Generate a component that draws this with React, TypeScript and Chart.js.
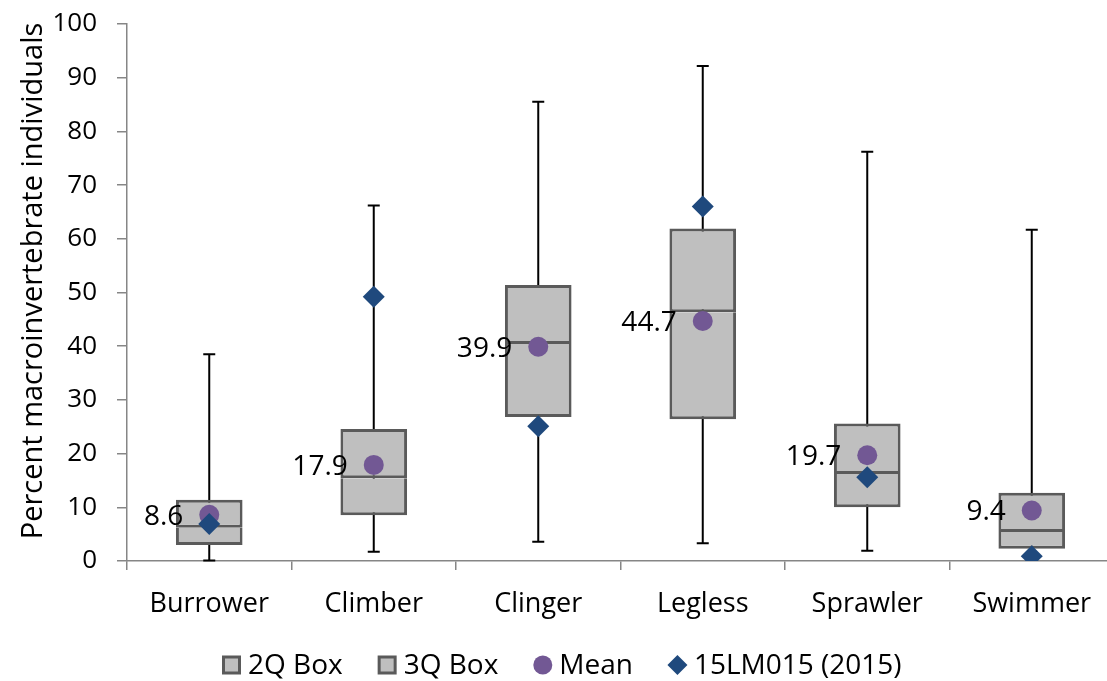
import React, { useEffect, useRef } from 'react';
import { Chart, registerables } from 'chart.js';

Chart.register(...registerables);

const categories = ['Burrower', 'Climber', 'Clinger', 'Legless', 'Sprawler', 'Swimmer'];
const minVals = [0.1, 1.7, 3.6, 3.3, 1.9, 0.3];
const q1Vals = [3.0, 8.5, 26.8, 26.4, 10.0, 2.3];
const medianVals = [6.2, 15.4, 40.4, 46.3, 16.2, 5.4];
const q3Vals = [11.4, 24.6, 51.4, 61.9, 25.6, 12.7];
const maxVals = [38.5, 66.2, 85.5, 92.2, 76.2, 61.7];
const meanVals = [8.6, 17.9, 39.9, 44.7, 19.7, 9.4];
const siteVals = [6.9, 49.2, 25.1, 66.0, 15.6, 0.9];
const legendLabels = ['2Q Box', '3Q Box', 'Mean', '15LM015 (2015)'];
const yTitle = 'Percent macroinvertebrate individuals';

const FONT = '"Open Sans", sans-serif';
const BOX_FILL = '#BFBFBF';
const BOX_EDGE = '#5A5A5A';
const MEAN_COLOR = '#725894';
const SITE_COLOR = '#1F497D';
const AXIS_COLOR = '#868686';

const whiskerPlugin = {
  id: 'whiskers',
  beforeDatasetsDraw(chart: any) {
    const { ctx, scales } = chart;
    const xs = scales.x;
    const ys = scales.y;
    ctx.save();
    ctx.strokeStyle = '#000000';
    ctx.lineWidth = 2;
    categories.forEach((_, i) => {
      const x = xs.getPixelForValue(i);
      const yTop = ys.getPixelForValue(maxVals[i]);
      const yBot = ys.getPixelForValue(minVals[i]);
      ctx.beginPath();
      ctx.moveTo(x, yTop);
      ctx.lineTo(x, yBot);
      ctx.moveTo(x - 6, yTop);
      ctx.lineTo(x + 6, yTop);
      ctx.moveTo(x - 6, yBot);
      ctx.lineTo(x + 6, yBot);
      ctx.stroke();
    });
    ctx.restore();
  },
};

const meanLabelPlugin = {
  id: 'meanLabels',
  afterDatasetsDraw(chart: any) {
    const { ctx } = chart;
    const meta = chart.getDatasetMeta(2);
    ctx.save();
    ctx.font = `28px ${FONT}`;
    ctx.fillStyle = '#000000';
    ctx.textAlign = 'right';
    ctx.textBaseline = 'middle';
    meta.data.forEach((pt: any, i: number) => {
      ctx.fillText(meanVals[i].toFixed(1), pt.x - 26, pt.y + 2);
    });
    ctx.restore();
  },
};

const yTitlePlugin = {
  id: 'yTitle',
  afterDraw(chart: any) {
    const { ctx } = chart;
    ctx.save();
    ctx.font = `29px ${FONT}`;
    ctx.fillStyle = '#000000';
    ctx.textAlign = 'center';
    ctx.textBaseline = 'middle';
    ctx.translate(34, 281);
    ctx.rotate(-Math.PI / 2);
    ctx.fillText(yTitle, 0, 0);
    ctx.restore();
  },
};

const customLegendPlugin = {
  id: 'customLegend',
  afterDraw(chart: any) {
    const { ctx } = chart;
    ctx.save();
    ctx.font = `28px ${FONT}`;
    ctx.textBaseline = 'middle';
    ctx.textAlign = 'left';
    const iconW = 19;
    const iconGap = 7;
    const itemGap = 35;
    const cy = 665;
    let x = 222;
    legendLabels.forEach((label, i) => {
      const cx = x + iconW / 2;
      if (i < 2) {
        ctx.fillStyle = BOX_FILL;
        ctx.strokeStyle = BOX_EDGE;
        ctx.lineWidth = 3;
        ctx.fillRect(cx - 8, cy - 8, 16, 16);
        ctx.strokeRect(cx - 8, cy - 8, 16, 16);
      } else if (i === 2) {
        ctx.fillStyle = MEAN_COLOR;
        ctx.beginPath();
        ctx.arc(cx, cy, 9.5, 0, Math.PI * 2);
        ctx.fill();
      } else {
        ctx.fillStyle = SITE_COLOR;
        ctx.beginPath();
        ctx.moveTo(cx, cy - 10);
        ctx.lineTo(cx + 10, cy);
        ctx.lineTo(cx, cy + 10);
        ctx.lineTo(cx - 10, cy);
        ctx.closePath();
        ctx.fill();
      }
      ctx.fillStyle = '#000000';
      const w = ctx.measureText(label).width;
      ctx.fillText(label, x + iconW + iconGap, cy + 1);
      x += iconW + iconGap + w + itemGap;
    });
    ctx.restore();
  },
};

export default function App() {
  const canvasRef = useRef<HTMLCanvasElement | null>(null);

  useEffect(() => {
    if (!canvasRef.current) return;
    const boxCommon = {
      type: 'bar' as const,
      grouped: false,
      backgroundColor: BOX_FILL,
      borderColor: BOX_EDGE,
      borderWidth: 3,
      barPercentage: 0.405,
      categoryPercentage: 1,
      inflateAmount: 0,
    };
    const chart = new Chart(canvasRef.current, {
      type: 'bar',
      data: {
        labels: categories,
        datasets: [
          {
            ...boxCommon,
            label: legendLabels[0],
            data: categories.map((_, i) => [q1Vals[i], medianVals[i]]),
            borderSkipped: 'top',
            order: 3,
          } as any,
          {
            ...boxCommon,
            label: legendLabels[1],
            data: categories.map((_, i) => [medianVals[i], q3Vals[i]]),
            borderSkipped: false,
            order: 2,
          } as any,
          {
            type: 'line',
            label: legendLabels[2],
            data: meanVals,
            showLine: false,
            pointStyle: 'circle',
            pointRadius: 10,
            pointBackgroundColor: MEAN_COLOR,
            pointBorderWidth: 0,
            borderColor: MEAN_COLOR,
            order: 1,
          } as any,
          {
            type: 'line',
            label: legendLabels[3],
            data: siteVals,
            showLine: false,
            pointStyle: 'rectRot',
            pointRadius: 11,
            pointBackgroundColor: SITE_COLOR,
            pointBorderWidth: 0,
            borderColor: SITE_COLOR,
            order: 0,
          } as any,
        ],
      },
      options: {
        responsive: false,
        animation: false,
        devicePixelRatio: 1,
        layout: { padding: { left: 8, right: 10, top: 24, bottom: 60 } },
        plugins: {
          legend: { display: false },
          tooltip: { enabled: false },
        },
        scales: {
          x: {
            type: 'category',
            offset: true,
            afterFit: (s: any) => {
              s.height = 60;
            },
            grid: {
              offset: true,
              drawOnChartArea: false,
              drawTicks: true,
              tickLength: 9,
              color: AXIS_COLOR,
              lineWidth: 1.5,
            },
            border: { display: true, color: AXIS_COLOR, width: 1.5 },
            ticks: {
              font: { family: FONT, size: 27 },
              color: '#000000',
              padding: 18,
              maxRotation: 0,
            },
          },
          y: {
            min: 0,
            max: 100,
            afterFit: (s: any) => {
              s.width = 119;
              s.paddingTop = 0;
              s.paddingBottom = 0;
            },
            grid: {
              drawOnChartArea: false,
              drawTicks: true,
              tickLength: 10,
              color: AXIS_COLOR,
              lineWidth: 1.5,
            },
            border: { display: true, color: AXIS_COLOR, width: 1.5 },
            ticks: {
              stepSize: 10,
              font: { family: FONT, size: 26 },
              color: '#000000',
              padding: 20,
            },
            title: { display: false },
          },
        },
      },
      plugins: [whiskerPlugin, meanLabelPlugin, yTitlePlugin, customLegendPlugin],
    });
    return () => chart.destroy();
  }, []);

  return (
    <div
      style={{
        position: 'fixed',
        left: 0,
        top: 0,
        width: 1107,
        height: 681,
        overflow: 'hidden',
        background: '#ffffff',
      }}
    >
      <canvas ref={canvasRef} width={1125} height={681} style={{ display: 'block' }} />
    </div>
  );
}
